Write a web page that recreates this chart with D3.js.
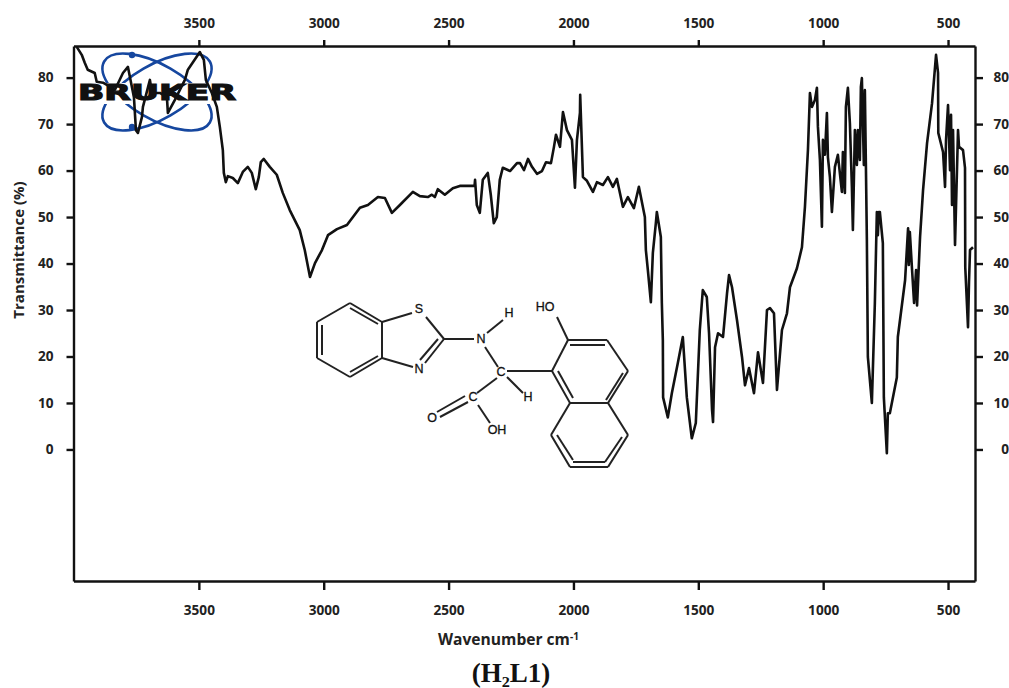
<!DOCTYPE html>
<html>
<head>
<meta charset="utf-8">
<script src="https://cdn.jsdelivr.net/npm/d3@7"></script>
<style>
    html, body { margin: 0; padding: 0; background: #fff; overflow: hidden; }
    svg { display: block; }
    .axis text { font: bold 13.6px "Open Sans", sans-serif; fill: #222; }
    .axis path, .axis line { stroke: #111; stroke-width: 2.4px; }
    .atom { font: 12.5px "Liberation Sans", sans-serif; fill: #111; stroke: #111; stroke-width: 0.3px; text-anchor: middle; }
</style>
</head>
<body>
<script>
// spectrum: wavenumber (cm-1) and transmittance (%)
var wavenumbers = [
    3989, 3969, 3957, 3945, 3917, 3909, 3884, 3836, 3804, 3784, 3760, 3752, 3744, 3728, 3724, 3696,
    3688, 3656, 3628, 3624, 3596, 3556, 3544, 3496, 3480, 3472, 3448, 3428, 3416, 3404, 3400, 3392,
    3384, 3364, 3344, 3324, 3304, 3288, 3272, 3260, 3252, 3240, 3216, 3188, 3164, 3136, 3096, 3076,
    3055, 3035, 3007, 2983, 2947, 2907, 2855, 2823, 2783, 2755, 2727, 2695, 2643, 2615, 2583, 2567,
    2555, 2543, 2515, 2483, 2455, 2396, 2394, 2387, 2375, 2363, 2343, 2331, 2319, 2307, 2295, 2283,
    2254, 2226, 2214, 2198, 2182, 2166, 2146, 2126, 2110, 2090, 2078, 2070, 2054, 2042, 2026, 2006,
    1994, 1986, 1974, 1973, 1962, 1946, 1922, 1906, 1882, 1862, 1842, 1826, 1802, 1782, 1758, 1738,
    1714, 1710, 1702, 1690, 1682, 1670, 1666, 1650, 1646, 1642, 1641, 1622, 1606, 1582, 1562, 1546,
    1526, 1510, 1494, 1482, 1466, 1457, 1445, 1441, 1433, 1421, 1401, 1385, 1377, 1365, 1345, 1325,
    1313, 1297, 1277, 1261, 1241, 1225, 1213, 1197, 1185, 1165, 1145, 1133, 1105, 1085, 1073, 1061,
    1053, 1045, 1033, 1025, 1021, 1013, 1005, 1001, 993, 985, 981, 973, 965, 953, 941, 925,
    921, 913, 909, 901, 893, 885, 881, 873, 865, 861, 853, 849, 845, 837, 833, 829,
    825, 821, 805, 793, 785, 781, 777, 773, 761, 757, 745, 741, 733, 705, 701, 672,
    660, 657, 653, 644, 636, 628, 624, 612, 600, 584, 564, 548, 540, 539, 520, 512,
    508, 500, 492, 488, 484, 480, 472, 460, 456, 440, 432, 431, 420, 416, 412, 400
];
var transmittance = [
    86.6, 84.9, 83.2, 81.7, 81.0, 79.1, 78.9, 77.4, 81.0, 82.3, 75.8, 68.7, 68.1, 71.5, 73.7, 79.5,
    76.7, 76.7, 75.8, 72.4, 75.2, 79.5, 81.7, 85.5, 83.8, 79.5, 76.7, 73.7, 69.4, 64.4, 59.5, 57.5,
    58.8, 58.4, 57.3, 59.7, 60.8, 59.5, 56.0, 58.6, 61.8, 62.5, 60.8, 59.1, 55.2, 51.5, 47.2, 42.9,
    37.1, 40.1, 42.9, 46.1, 47.4, 48.3, 52.0, 52.6, 54.3, 54.1, 50.9, 52.6, 55.4, 54.5, 54.3, 54.8,
    54.3, 56.0, 54.8, 56.2, 56.7, 56.7, 58.0, 52.6, 50.9, 58.0, 59.5, 54.8, 48.7, 50.0, 58.0, 60.6,
    59.9, 61.6, 61.6, 60.1, 62.5, 60.8, 59.3, 59.9, 61.8, 61.6, 65.1, 67.7, 65.1, 72.6, 68.7, 66.6,
    56.3, 66.6, 72.4, 76.3, 58.6, 57.8, 55.4, 57.5, 56.9, 58.6, 56.5, 58.2, 52.2, 54.3, 51.9, 56.5,
    50.0, 42.9, 38.6, 31.7, 42.3, 48.7, 51.1, 45.7, 31.5, 23.5, 11.2, 6.9, 12.1, 18.6, 24.2, 11.2,
    2.4, 5.7, 25.7, 34.3, 32.8, 25.0, 8.5, 5.9, 22.0, 25.0, 24.2, 33.6, 37.5, 34.9, 27.8, 19.9,
    13.8, 17.5, 12.1, 20.9, 14.3, 30.0, 30.4, 29.3, 12.8, 25.7, 29.3, 34.9, 39.0, 43.5, 52.2, 64.4,
    76.7, 73.7, 75.2, 77.8, 69.4, 62.3, 47.9, 66.6, 63.4, 72.4, 62.9, 58.6, 51.1, 60.8, 63.4, 55.4,
    64.0, 55.2, 73.7, 77.8, 70.2, 56.5, 47.2, 68.7, 61.2, 68.7, 62.3, 78.0, 79.9, 61.2, 77.3, 61.6,
    45.1, 19.9, 10.0, 31.5, 51.1, 46.1, 51.1, 51.1, 44.4, 11.2, -0.8, 7.8, 7.8, 15.5, 24.2, 36.4,
    47.6, 39.7, 46.8, 38.6, 31.5, 38.6, 31.0, 45.7, 55.8, 65.9, 74.5, 84.9, 81.0, 68.1, 64.0, 56.5,
    66.6, 74.1, 60.1, 72.0, 52.6, 68.7, 44.0, 68.7, 65.1, 64.4, 60.6, 39.2, 26.3, 36.0, 42.9, 43.5
];
var xTicks = [3500, 3000, 2500, 2000, 1500, 1000, 500];
var yTicks = [0, 10, 20, 30, 40, 50, 60, 70, 80];

// structure drawing, in page pixels: [x1, y1, x2, y2]
var bonds = [
    [350, 303, 382, 322], [382, 322, 382, 358], [382, 358, 350, 377], [350, 377, 317, 358], [317, 358, 317, 322], [317, 322, 350, 303],
    [322, 325, 322, 355], [350, 308, 378, 324], [350, 372, 378, 356],
    [382, 322, 412, 313], [426, 317, 444, 339], [382, 358, 413, 367], [425, 363, 444, 339], [420, 360, 438, 339],
    [444, 339, 474, 339], [487, 333, 503, 320], [485, 347, 498, 367], [507, 371, 552, 371], [507, 377, 523, 393],
    [497, 378, 477, 393], [468, 402, 440, 417], [465, 396, 437, 412], [478, 405, 490, 423], [557, 317, 568, 340],
    [568, 340, 607, 340], [607, 340, 628, 371], [628, 371, 608, 403], [608, 403, 570, 403], [570, 403, 552, 371], [552, 371, 568, 340],
    [570, 345, 605, 345], [623, 373, 606, 400], [558, 371, 573, 398],
    [608, 403, 628, 435], [628, 435, 608, 467], [608, 467, 570, 467], [570, 467, 551, 435], [551, 435, 570, 403],
    [622, 437, 605, 462], [573, 462, 605, 462], [557, 435, 573, 460]
];
var atoms = [
    ["S", 419, 313], ["N", 419, 373], ["N", 481, 343], ["H", 509, 317], ["C", 501, 376],
    ["H", 528, 401], ["C", 473, 401], ["O", 432, 422], ["OH", 497, 434], ["HO", 545, 311]
];

var width = 1009, height = 688;
var frame = { left: 73.5, right: 975, top: 46, bottom: 581 };

var svg = d3.select("body").append("svg")
    .attr("width", width)
    .attr("height", height);

var x = d3.scaleLinear().domain([4002, 392]).range([frame.left, frame.right]);
var y = d3.scaleLinear().domain([-28.3, 86.8]).range([frame.bottom, frame.top]);

//logo sits under the spectrum, rings are broken around the lettering
var clip = svg.append("clipPath").attr("id", "logoClip");
clip.append("rect").attr("x", 90).attr("y", 40).attr("width", 140).attr("height", 43);
clip.append("rect").attr("x", 90).attr("y", 104).attr("width", 140).attr("height", 40);

var logo = svg.append("g").attr("clip-path", "url(#logoClip)");
logo.selectAll("ellipse")
    .data([30, -30])
    .enter().append("ellipse")
    .attr("rx", 61)
    .attr("ry", 27)
    .attr("transform", function (d) {
        return "translate(157,92) rotate(" + d + ")";
    })
    .attr("fill", "none")
    .attr("stroke", "#16479f")
    .attr("stroke-width", 2.6);
logo.selectAll("circle")
    .data([[132, 55], [132, 127]])
    .enter().append("circle")
    .attr("cx", function (d) { return d[0]; })
    .attr("cy", function (d) { return d[1]; })
    .attr("r", 3.2)
    .attr("fill", "#16479f");
svg.append("text")
    .attr("x", 78)
    .attr("y", 100)
    .attr("textLength", 158)
    .attr("lengthAdjust", "spacingAndGlyphs")
    .style("font", "bold 22px 'DejaVu Sans', sans-serif")
    .attr("fill", "#111")
    .attr("stroke", "#111")
    .attr("stroke-width", 1.2)
    .text("BRUKER");

//spectrum
var line = d3.line()
    .x(function (d) { return x(d); })
    .y(function (d, i) { return y(transmittance[i]); });
svg.append("path")
    .attr("d", line(wavenumbers))
    .attr("fill", "none")
    .attr("stroke", "#111")
    .attr("stroke-width", 2.6)
    .attr("stroke-linejoin", "round");

//structure
svg.selectAll(".bond")
    .data(bonds)
    .enter().append("line")
    .attr("class", "bond")
    .attr("x1", function (d) { return d[0]; })
    .attr("y1", function (d) { return d[1]; })
    .attr("x2", function (d) { return d[2]; })
    .attr("y2", function (d) { return d[3]; })
    .attr("stroke", "#222")
    .attr("stroke-width", 2);
svg.selectAll(".atom")
    .data(atoms)
    .enter().append("text")
    .attr("class", "atom")
    .attr("x", function (d) { return d[1]; })
    .attr("y", function (d) { return d[2]; })
    .text(function (d) { return d[0]; });

//axes
function addAxis(axis, tx, ty) {
    return svg.append("g")
        .attr("class", "axis")
        .attr("transform", "translate(" + tx + "," + ty + ")")
        .call(axis);
}
addAxis(d3.axisTop(x).tickValues(xTicks).tickSize(6).tickSizeOuter(0).tickPadding(12).tickFormat(d3.format("d")), 0, frame.top);
addAxis(d3.axisBottom(x).tickValues(xTicks).tickSize(9).tickSizeOuter(0).tickPadding(15).tickFormat(d3.format("d")), 0, frame.bottom);
addAxis(d3.axisLeft(y).tickValues(yTicks).tickSize(7).tickSizeOuter(0).tickPadding(13), frame.left, 0);
addAxis(d3.axisRight(y).tickValues(yTicks).tickSize(8).tickSizeOuter(0).tickPadding(14), frame.right, 0)
    .selectAll("text")
    .attr("x", 34)
    .attr("text-anchor", "end");

//titles
svg.append("text")
    .attr("transform", "translate(24,250) rotate(-90)")
    .attr("text-anchor", "middle")
    .style("font", "bold 15px 'Open Sans', sans-serif")
    .attr("fill", "#222")
    .text("Transmittance (%)");
var xTitle = svg.append("text")
    .attr("x", 438)
    .attr("y", 645)
    .style("font", "bold 15.6px 'Open Sans', sans-serif")
    .attr("fill", "#222");
xTitle.append("tspan").text("Wavenumber cm");
xTitle.append("tspan").attr("dy", -5).style("font-size", "10px").text("-1");
svg.append("text")
    .attr("x", 511)
    .attr("y", 682)
    .attr("text-anchor", "middle")
    .style("font", "bold 27px 'Liberation Serif', serif")
    .attr("fill", "#111")
    .text("(H\u2082L1)");
</script>
</body>
</html>
